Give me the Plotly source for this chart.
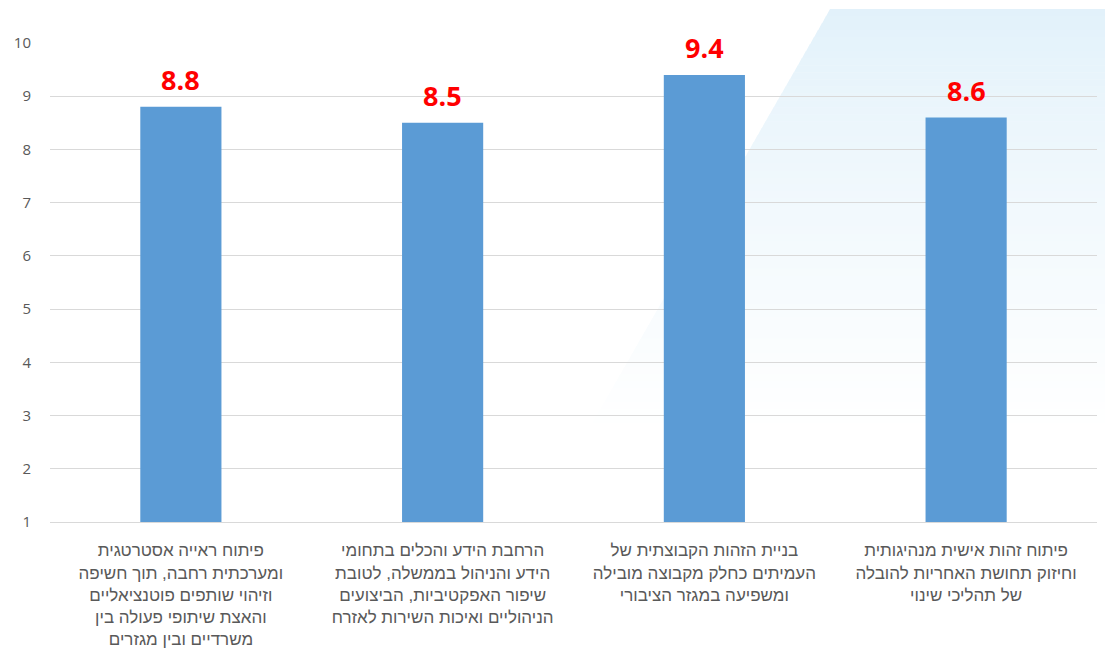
import plotly.graph_objects as go

# Program goals (category labels, one line per <br>)
categories = [
    "פיתוח ראייה אסטרטגית<br>ומערכתית רחבה, תוך חשיפה<br>וזיהוי שותפים פוטנציאליים<br>והאצת שיתופי פעולה בין<br>משרדיים ובין מגזרים",
    "הרחבת הידע והכלים בתחומי<br>הידע והניהול בממשלה, לטובת<br>שיפור האפקטיביות, הביצועים<br>הניהוליים ואיכות השירות לאזרח",
    "בניית הזהות הקבוצתית של<br>העמיתים כחלק מקבוצה מובילה<br>ומשפיעה במגזר הציבורי",
    "פיתוח זהות אישית מנהיגותית<br>וחיזוק תחושת האחריות להובלה<br>של תהליכי שינוי",
]
scores = [8.8, 8.5, 9.4, 8.6]
y_ticks = list(range(1, 11))

W, H = 1105, 660
M_L, M_R, M_T, M_B = 50, 8, 43, 138
PW, PH = W - M_L - M_R, H - M_T - M_B

BAR_COLOR = "#5b9bd5"
GRID_COLOR = "#d9d9d9"
TEXT_COLOR = "#595959"


def px_to_paper(px, py):
    return (px - M_L) / PW, (H - M_B - py) / PH


fig = go.Figure()
fig.add_trace(go.Bar(
    x=categories,
    y=[v - 1 for v in scores],
    base=1,
    marker=dict(color=BAR_COLOR, line=dict(width=0)),
    width=0.31,
    hoverinfo="skip",
))

# Value labels above each bar
for cat, v in zip(categories, scores):
    fig.add_annotation(
        x=cat, y=v, text=f"{v:.1f}", showarrow=False,
        yanchor="bottom", yshift=7,
        font=dict(family="Open Sans", size=27, color="#ff0000", weight="bold"),
    )

# Decorative light-blue slanted panel in the top-right corner, fading downward
top_y, bottom_y = 9, 430
top_x, slope = 830, 200 / 348
c0 = (225, 241, 250)
n_bands = 60
shapes = []
for i in range(n_bands):
    y0 = top_y + (bottom_y - top_y) * i / n_bands
    y1 = top_y + (bottom_y - top_y) * (i + 1) / n_bands
    t = ((i + 0.5) / n_bands) ** 0.8
    col = tuple(round(c + (255 - c) * t) for c in c0)
    xl0 = top_x - (y0 - top_y) * slope
    xl1 = top_x - (y1 - top_y) * slope
    pts = [px_to_paper(xl0, y0), px_to_paper(W, y0), px_to_paper(W, y1 + 0.6), px_to_paper(xl1, y1 + 0.6)]
    path = "M " + " L ".join(f"{a:.5f},{b:.5f}" for a, b in pts) + " Z"
    shapes.append(dict(
        type="path", path=path, xref="paper", yref="paper",
        fillcolor=f"rgb{col}", line=dict(width=0), layer="below",
    ))

fig.update_layout(
    width=W, height=H,
    margin=dict(l=M_L, r=M_R, t=M_T, b=M_B),
    paper_bgcolor="white",
    plot_bgcolor="rgba(0,0,0,0)",
    showlegend=False,
    shapes=shapes,
    bargap=0.69,
    xaxis=dict(
        showgrid=False, showline=True, linecolor=GRID_COLOR, linewidth=1,
        ticks="", ticklabelstandoff=13,
        tickfont=dict(family="Liberation Sans, Arial", size=17, color=TEXT_COLOR),
        fixedrange=True,
    ),
    yaxis=dict(
        range=[1, 10], tickvals=y_ticks, ticktext=[str(v) for v in y_ticks],
        showgrid=True, gridcolor=GRID_COLOR, gridwidth=1,
        zeroline=False, showline=False, ticks="", ticklabelstandoff=18,
        tickfont=dict(family="Open Sans", size=15, color=TEXT_COLOR),
        fixedrange=True,
    ),
)

fig.write_html("out.html", config={"displayModeBar": False})
